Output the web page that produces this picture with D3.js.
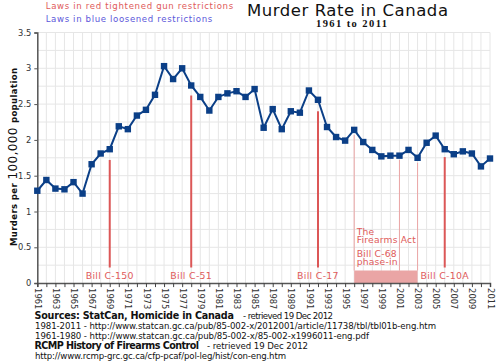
<!DOCTYPE html>
<html><head><meta charset="utf-8">
<script src="https://cdn.jsdelivr.net/npm/d3@7"></script>
<style>body{margin:0;background:#fff}svg{display:block}</style>
</head><body>
<svg id="c" width="500" height="363"></svg>
<script>
const years = d3.range(1961, 2012);
const rates = [1.29,1.44,1.32,1.31,1.41,1.25,1.66,1.81,1.87,2.19,2.15,2.34,2.42,2.63,3.03,2.85,3.00,2.76,2.60,2.41,
  2.60,2.65,2.68,2.60,2.71,2.17,2.43,2.15,2.40,2.38,2.69,2.56,2.18,2.04,1.99,2.14,1.97,1.86,1.77,1.78,
  1.78,1.86,1.75,1.96,2.06,1.87,1.80,1.84,1.81,1.63,1.74];
const yTicks = [0,0.5,1,1.5,2,2.5,3,3.5];
const lawYears = [1969, 1978, 1992, 1996, 2001, 2003, 2006];
const lawTops = [1.72, 2.62, 2.40, 2.07, 1.72, 1.68, 1.76];
const lawLabels = ["Bill C-150", "Bill C-51", "Bill C-17", "", "", "", "Bill C-10A"];
const lawMajor = [true, true, true, false, false, false, true];
const phaseIn = [1996, 2003];
const phaseText = ["The", "Firearms Act", "Bill C-68", "phase-in"];

const svg = d3.select("#c");
const L=37.3, R=490, T=32.5, B=283.1;
const x = d3.scaleLinear().domain([1961,2011]).range([L,R]);
const y = d3.scaleLinear().domain([0,3.5]).range([B,T]);
const red = "#dc5757", lightRed="#eba6a6", textRed="#e05a5a";
const font = "DejaVu Sans, sans-serif";
const laws = lawYears.map((yr,i)=>({year:yr, top:lawTops[i], label:lawLabels[i], strong:lawMajor[i]}));

// grid
svg.append("g").selectAll("line").data(years.slice(1)).join("line")
  .attr("x1",d=>x(d)).attr("x2",d=>x(d)).attr("y1",T).attr("y2",B)
  .attr("stroke","#e6e6e6").attr("stroke-width",1);
svg.append("g").selectAll("line").data(d3.range(0.25,3.51,0.25)).join("line")
  .attr("x1",L).attr("x2",R).attr("y1",d=>y(d)).attr("y2",d=>y(d))
  .attr("stroke","#e6e6e6").attr("stroke-width",1);

// phase-in rect
svg.append("rect").attr("x",x(phaseIn[0])).attr("width",x(phaseIn[1])-x(phaseIn[0]))
  .attr("y",270.5).attr("height",B-270.5).attr("fill","#eaa5a5");

// law lines
svg.selectAll(".law").data(laws).join("line")
  .attr("x1",d=>x(d.year)).attr("x2",d=>x(d.year))
  .attr("y1",d=>y(d.top)).attr("y2",d=>d.strong?267.5:270.5)
  .attr("stroke",d=>d.strong?red:lightRed).attr("stroke-width",d=>d.strong?2:1);
svg.selectAll(".lawt").data(laws.filter(d=>d.label)).join("text")
  .attr("x",d=>x(d.year)).attr("y",279.3).attr("text-anchor","middle")
  .attr("font-family",font).attr("font-size",9.4).attr("letter-spacing",0.3).attr("fill",textRed).text(d=>d.label);
const fa = svg.append("text").attr("font-family",font).attr("font-size",9.2).attr("letter-spacing",0.2).attr("fill",textRed);
[234.8,243,256.8,265].forEach((yy,i)=>{
  fa.append("tspan").attr("x",x(phaseIn[0])+2.5).attr("y",yy).text(phaseText[i]);
});

// axes
const ya = svg.append("g").attr("transform",`translate(${L},0)`)
  .call(d3.axisLeft(y).tickValues(yTicks).tickSize(3).tickPadding(3).tickFormat(d3.format("")));
ya.select(".domain").attr("stroke","#555").attr("stroke-width",1.5);
ya.selectAll("text").attr("font-family",font).attr("font-size",8.3).attr("fill","#333");
ya.selectAll("line").attr("stroke","#555");
const xa = svg.append("g").attr("transform",`translate(0,${B})`)
  .call(d3.axisBottom(x).tickValues(years).tickSize(4).tickFormat(d=> d%2===1?String(d):""));
xa.select(".domain").attr("stroke","#555").attr("stroke-width",1.5);
xa.selectAll("line").attr("stroke","#444");
xa.selectAll("text").attr("font-family",font).attr("font-size",8.3).attr("fill","#333")
  .attr("transform","rotate(90)").attr("text-anchor","start").attr("dy","0.35em").attr("y",0).attr("x",5);

// line + markers
svg.append("path").datum(years.map((d,i)=>[d,rates[i]]))
  .attr("d",d3.line().x(d=>x(d[0])).y(d=>y(d[1])))
  .attr("fill","none").attr("stroke","#0b3f87").attr("stroke-width",2);
svg.selectAll(".pt").data(years).join("rect")
  .attr("x",(d)=>x(d)-3.2).attr("y",(d,i)=>y(rates[i])-3.2).attr("width",6.4).attr("height",6.4)
  .attr("fill","#0b3f87");

// titles
svg.append("text").attr("x",45.7).attr("y",9).attr("font-family",font).attr("font-size",8.6)
  .attr("textLength",187.5).attr("lengthAdjust","spacing")
  .attr("fill","#e05a5a").text("Laws in red tightened gun restrictions");
svg.append("text").attr("x",45.7).attr("y",21.5).attr("font-family",font).attr("font-size",8.6)
  .attr("textLength",166.5).attr("lengthAdjust","spacing")
  .attr("fill","#5b57da").text("Laws in blue loosened restrictions");
svg.append("text").attr("x",247).attr("y",15.7).attr("font-family",font)
  .attr("font-size",16.5).attr("textLength",201).attr("lengthAdjust","spacing").attr("fill","#111").text("Murder Rate in Canada");
svg.append("text").attr("x",316).attr("y",26.5).attr("font-family","Liberation Serif, serif")
  .attr("font-weight","bold").attr("font-size",10.5).attr("textLength",71).attr("lengthAdjust","spacing")
  .attr("fill","#111").text("1961 to 2011");

// y label
const yl = svg.append("text").attr("transform","translate(16.5,246) rotate(-90)")
  .attr("font-family",font).attr("fill","#111").attr("textLength",178).attr("lengthAdjust","spacing");
yl.append("tspan").attr("font-weight","bold").attr("font-size",8.5).text("Murders per ");
yl.append("tspan").attr("font-size",12).text("100,000 ");
yl.append("tspan").attr("font-weight","bold").attr("font-size",8.5).text("population");

// sources
function src(txt, x0, x1, yy, bold){
  svg.append("text").attr("x",x0).attr("y",yy).attr("font-family",font)
    .attr("font-size",bold?9.6:8.6).attr("font-weight",bold?"bold":"normal").attr("fill","#111")
    .attr("textLength",x1-x0).attr("lengthAdjust","spacing").text(txt);
}
src("Sources:  StatCan, Homicide in Canada", 34.5, 234, 319, true);
src("-  retrieved 19 Dec 2012", 243, 333, 319, false);
src("1981-2011  -  http://www.statcan.gc.ca/pub/85-002-x/2012001/article/11738/tbl/tbl01b-eng.htm", 35, 436, 329, false);
src("1961-1980  -  http://www.statcan.gc.ca/pub/85-002-x/85-002-x1996011-eng.pdf", 35, 369, 339, false);
src("RCMP History of Firearms Control", 34.5, 199, 349, true);
src("-  retrieved 19 Dec 2012", 207, 308, 349, false);
src("http://www.rcmp-grc.gc.ca/cfp-pcaf/pol-leg/hist/con-eng.htm", 35, 286, 359, false);
</script>
</body></html>
